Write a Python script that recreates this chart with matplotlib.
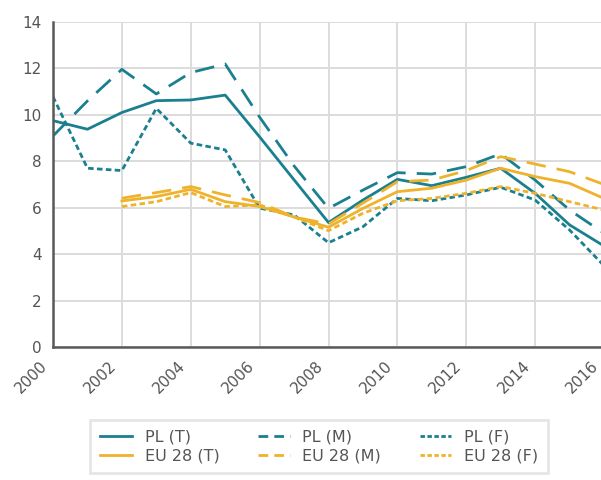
"""Unemployment-style rates, PL vs EU 28, total / male / female, 2000-2016."""

import matplotlib

matplotlib.use("Agg")
import matplotlib.pyplot as plt
import matplotlib.transforms as mtransforms
from matplotlib.lines import Line2D

TEAL = "#1a808f"
AMBER = "#efb22b"

years_pl = list(range(2000, 2017))
years_eu = list(range(2002, 2017))

pl_t = [9.75, 9.38, 10.1, 10.61, 10.64, 10.85, 9.05, 7.2, 5.36, 6.33, 7.22, 6.95, 7.31, 7.7, 6.62, 5.26, 4.35]
pl_m = [9.09, 10.6, 11.96, 10.9, 11.82, 12.19, 9.9, 7.8, 5.97, 6.76, 7.51, 7.45, 7.77, 8.32, 7.19, 5.9, 4.9]
pl_f = [10.78, 7.7, 7.6, 10.28, 8.78, 8.49, 5.98, 5.69, 4.49, 5.18, 6.4, 6.3, 6.55, 6.88, 6.33, 5.04, 3.5]

eu_t = [6.29, 6.48, 6.79, 6.26, 6.05, 5.6, 5.16, 5.97, 6.69, 6.84, 7.19, 7.7, 7.34, 7.05, 6.4]
eu_m = [6.41, 6.65, 6.91, 6.55, 6.22, 5.6, 5.3, 6.2, 7.12, 7.19, 7.6, 8.2, 7.88, 7.55, 7.0]
eu_f = [6.05, 6.26, 6.65, 6.05, 6.12, 5.6, 5.01, 5.76, 6.3, 6.4, 6.62, 6.91, 6.62, 6.26, 5.9]

x_ticks = list(range(2000, 2017, 2))
y_ticks = list(range(0, 15, 2))

LONG = (0, (7, 4))
SHORT = (0, (2, 1.2))

fig = plt.figure(figsize=(6.01, 4.8), dpi=100)
ax = fig.add_axes([0.0882, 0.2771, 0.9168, 0.6771])

lw = 2.0
ax.plot(years_pl, pl_t, color=TEAL, lw=lw)
ax.plot(years_pl, pl_m, color=TEAL, lw=lw, ls=LONG)
ax.plot(years_pl, pl_f, color=TEAL, lw=lw, ls=SHORT)
ax.plot(years_eu, eu_t, color=AMBER, lw=lw)
ax.plot(years_eu, eu_m, color=AMBER, lw=lw, ls=LONG)
ax.plot(years_eu, eu_f, color=AMBER, lw=lw, ls=SHORT)

ax.set_xlim(2000, 2016)
ax.set_ylim(0, 14)
ax.set_xticks(x_ticks)
ax.set_yticks(y_ticks)
ax.set_xticklabels([str(y) for y in x_ticks], rotation=45, ha="right",
                   rotation_mode="anchor")
ax.tick_params(length=0, labelsize=11, colors="#555555", pad=8)
# rotated year labels sit a little left of their grid line, as in the source
shift = mtransforms.ScaledTranslation(-0.13, 0, fig.dpi_scale_trans)
for lbl in ax.get_xticklabels():
    lbl.set_transform(lbl.get_transform() + shift)
ax.grid(color="#dcdcdc", lw=1.4)
ax.set_axisbelow(True)
for side in ("top", "right"):
    ax.spines[side].set_visible(False)
for side in ("left", "bottom"):
    ax.spines[side].set_color("#595959")
    ax.spines[side].set_linewidth(1.8)

# legend swatches use shorter dashes so two dashes fit the handle
leg_long = (0, (3.5, 2.2))
leg_short = (0, (1.6, 0.9))
handles = [
    Line2D([], [], color=TEAL, lw=lw, label="PL (T)"),
    Line2D([], [], color=AMBER, lw=lw, label="EU 28 (T)"),
    Line2D([], [], color=TEAL, lw=lw, ls=leg_long, label="PL (M)"),
    Line2D([], [], color=AMBER, lw=lw, ls=leg_long, label="EU 28 (M)"),
    Line2D([], [], color=TEAL, lw=lw, ls=leg_short, label="PL (F)"),
    Line2D([], [], color=AMBER, lw=lw, ls=leg_short, label="EU 28 (F)"),
]
leg = fig.legend(handles=handles, ncol=3, loc="upper center",
                 bbox_to_anchor=(0.531, 0.125), fontsize=11.5,
                 frameon=True, fancybox=False, handlelength=2.0,
                 handletextpad=0.8, columnspacing=2.4, labelspacing=0.25,
                 borderpad=0.6, borderaxespad=0)
leg.get_frame().set_edgecolor("#e0e0e0")
leg.get_frame().set_linewidth(2)
for t in leg.get_texts():
    t.set_color("#555555")

fig.savefig("out.png", dpi=100)
